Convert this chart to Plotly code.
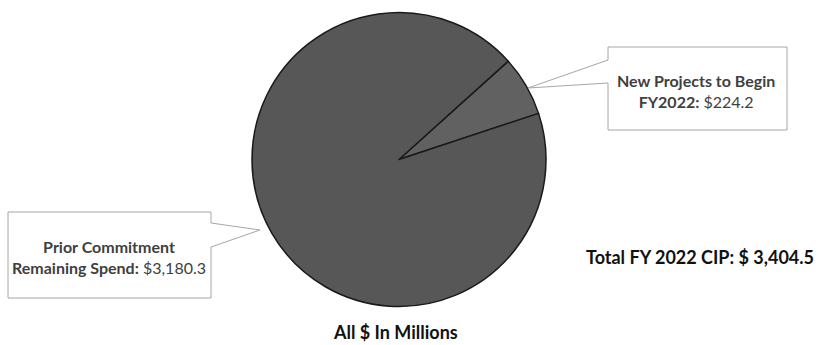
import plotly.graph_objects as go

W, H = 818, 345

labels = ["New Projects to Begin FY2022", "Prior Commitment Remaining Spend"]
values = [224.2, 3180.3]
total_label = "Total FY 2022 CIP: $ 3,404.5"
units_label = "All $ In Millions"

def px(x):
    return x / W

def py(y):
    return 1 - y / H

fig = go.Figure()
fig.add_trace(go.Pie(
    labels=labels,
    values=values,
    sort=False,
    direction="clockwise",
    rotation=48,
    textinfo="none",
    hoverinfo="label+value",
    marker=dict(colors=["#616161", "#575757"], line=dict(color="#1a1a1a", width=1.5)),
    domain=dict(x=[px(252), px(546)], y=[py(314), py(5)]),
    showlegend=False,
))

def box_path(pts):
    return "M " + " L ".join(f"{px(x)},{py(y)}" for x, y in pts) + " Z"

shapes = [
    dict(type="path", xref="paper", yref="paper",
         path=box_path([(8, 212), (211, 212), (211, 223), (260, 230), (211, 247), (211, 298), (8, 298)]),
         line=dict(color="#a6a6a6", width=1), fillcolor="white"),
    dict(type="path", xref="paper", yref="paper",
         path=box_path([(608, 47), (787, 47), (787, 130), (608, 130), (608, 83), (528, 88), (608, 60)]),
         line=dict(color="#a6a6a6", width=1), fillcolor="white"),
]

font = "Lato, 'Open Sans', sans-serif"
txt = "#404040"
common = dict(xref="paper", yref="paper", showarrow=False, xanchor="center", yanchor="middle")
annotations = [
    dict(x=px(109), y=py(257),
         text=f"<b>Prior Commitment</b><br><b>Remaining Spend:</b> ${values[1]:,.1f}",
         font=dict(family=font, size=16, color=txt), align="center", **common),
    dict(x=px(696), y=py(91),
         text=f"<b>New Projects to Begin</b><br><b>FY2022:</b> ${values[0]:,.1f}",
         font=dict(family=font, size=16, color=txt), align="center", **common),
    dict(x=px(700), y=py(257),
         text=f"<b>{total_label}</b>",
         font=dict(family=font, size=18, color="#111111"), **common),
    dict(x=px(395), y=py(332),
         text=f"<b>{units_label}</b>",
         font=dict(family=font, size=18, color="#111111"), **common),
]

fig.update_layout(
    width=W, height=H,
    margin=dict(l=0, r=0, t=0, b=0),
    paper_bgcolor="white", plot_bgcolor="white",
    shapes=shapes, annotations=annotations,
)

fig.write_html("out.html", config={"displayModeBar": False},
               post_script="document.body.style.margin='0';document.body.style.overflow='hidden';")
